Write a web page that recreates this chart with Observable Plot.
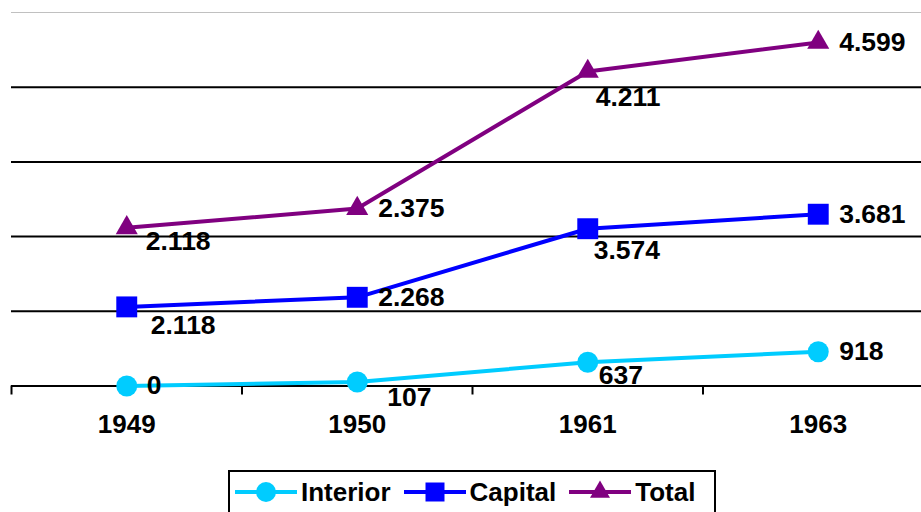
<!DOCTYPE html>
<html>
<head>
<meta charset="utf-8">
<script src="https://cdn.jsdelivr.net/npm/d3@7"></script>
<script src="https://cdn.jsdelivr.net/npm/@observablehq/plot@0.6"></script>
<style>
  body { margin: 0; background: #fff; font-family: "Liberation Sans", Arial, sans-serif; }
  #wrap { position: relative; width: 921px; height: 512px; overflow: hidden; }
  #legend {
    position: absolute; left: 228px; top: 470px; width: 484px; height: 60px;
    border: 2px solid #000; background: #fff;
  }
  #legend .row { display: flex; align-items: center; height: 40px; padding-left: 5px; }
  #legend .item { display: flex; align-items: center; margin-right: 13px; }
  #legend .item span { margin-left: 4px; font-size: 26px; font-weight: bold; color: #000; line-height: 1; }
</style>
</head>
<body>
<div id="wrap">
  <div id="chart"></div>
  <div id="legend"><div class="row"></div></div>
</div>
<script>
// Categories and series values
const years = ["1949", "1950", "1961", "1963"];
const interior = [0, 107, 637, 918];
const capital = [2118, 2268, 3574, 3681];
const total = [2118, 2375, 4211, 4599];
const seriesNames = ["Interior", "Capital", "Total"];
const gridValues = [2000, 4000, 6000, 8000];

// Styling
const seriesColors = ["#00ccff", "#0000ff", "#800080"];
const seriesSymbols = ["circle", "square", "triangle"];
const markerRadius = {Interior: 10.5, Capital: 11.8, Total: 8.2};

// Label offsets (px) from each marker, per series and year
const labelShift = {
  Interior: [[20, 0], [30, 16], [11, 13], [21, 0]],
  Capital:  [[24, 19], [21, 0], [6, 22], [21, 0]],
  Total:    [[19, 14], [21, 0], [8, 26], [21, 0]]
};

const seriesValues = [interior, capital, total];
const rows = seriesNames.flatMap((s, k) =>
  years.map((year, i) => ({series: s, i, year, value: seriesValues[k][i]}))
);

const fmt = d3.formatLocale({decimal: ",", thousands: ".", grouping: [3], currency: ["", ""]}).format(",d");

const labelMarks = rows.map(r => {
  const [dx, dy] = labelShift[r.series][r.i];
  return Plot.text(rows, Plot.stackY2({
    x: "i", y: "value", z: "series",
    text: d => (d.series === r.series && d.i === r.i) ? fmt(d.value) : null,
    dx, dy, textAnchor: "start",
    fontSize: 26.5, fontWeight: "bold", fill: "#000"
  }));
});

const chart = Plot.plot({
  width: 921,
  height: 460,
  marginLeft: 11,
  marginRight: -12,
  marginTop: 12,
  marginBottom: 74.5,
  style: {fontFamily: "Liberation Sans, Arial, sans-serif", color: "#000", background: "#fff"},
  x: {domain: [-0.5, years.length - 0.5]},
  y: {domain: [0, 10000], axis: null},
  color: {domain: seriesNames, range: seriesColors},
  symbol: {domain: seriesNames, range: seriesSymbols},
  r: {type: "identity"},
  marks: [
    Plot.ruleY([10000], {stroke: "#c0c0c0", strokeWidth: 1}),
    Plot.ruleY(gridValues, {stroke: "#000", strokeWidth: 2}),
    Plot.ruleY([0], {stroke: "#000", strokeWidth: 2}),
    Plot.axisX({
      ticks: d3.range(years.length + 1).map(k => k - 0.5),
      tickSize: 9, strokeWidth: 2, tickFormat: () => "", label: null
    }),
    Plot.axisX({
      ticks: d3.range(years.length),
      tickSize: 0, tickPadding: 29, label: null,
      tickFormat: i => years[i],
      fontSize: 26, fontWeight: "bold", fill: "#000"
    }),
    Plot.lineY(rows, Plot.stackY2({
      x: "i", y: "value", z: "series", stroke: "series", strokeWidth: 4
    })),
    Plot.dot(rows, Plot.stackY2({
      x: "i", y: "value", z: "series",
      fill: "series", symbol: "series", r: d => markerRadius[d.series], stroke: null
    })),
    ...labelMarks
  ]
});
document.getElementById("chart").appendChild(chart);

// Legend: line swatch with marker, then series name
const legendSymbols = [d3.symbolCircle, d3.symbolSquare, d3.symbolTriangle];
const legendSizes = [314, 361, 173];
const row = d3.select("#legend .row");
seriesNames.forEach((name, k) => {
  const item = row.append("div").attr("class", "item");
  const svg = item.append("svg").attr("width", 62).attr("height", 24);
  svg.append("line")
    .attr("x1", 0).attr("x2", 62).attr("y1", 12).attr("y2", 12)
    .attr("stroke", seriesColors[k]).attr("stroke-width", 4);
  svg.append("path")
    .attr("transform", "translate(31,12)")
    .attr("d", d3.symbol(legendSymbols[k], legendSizes[k])())
    .attr("fill", seriesColors[k]);
  item.append("span").text(name);
});
</script>
</body>
</html>
